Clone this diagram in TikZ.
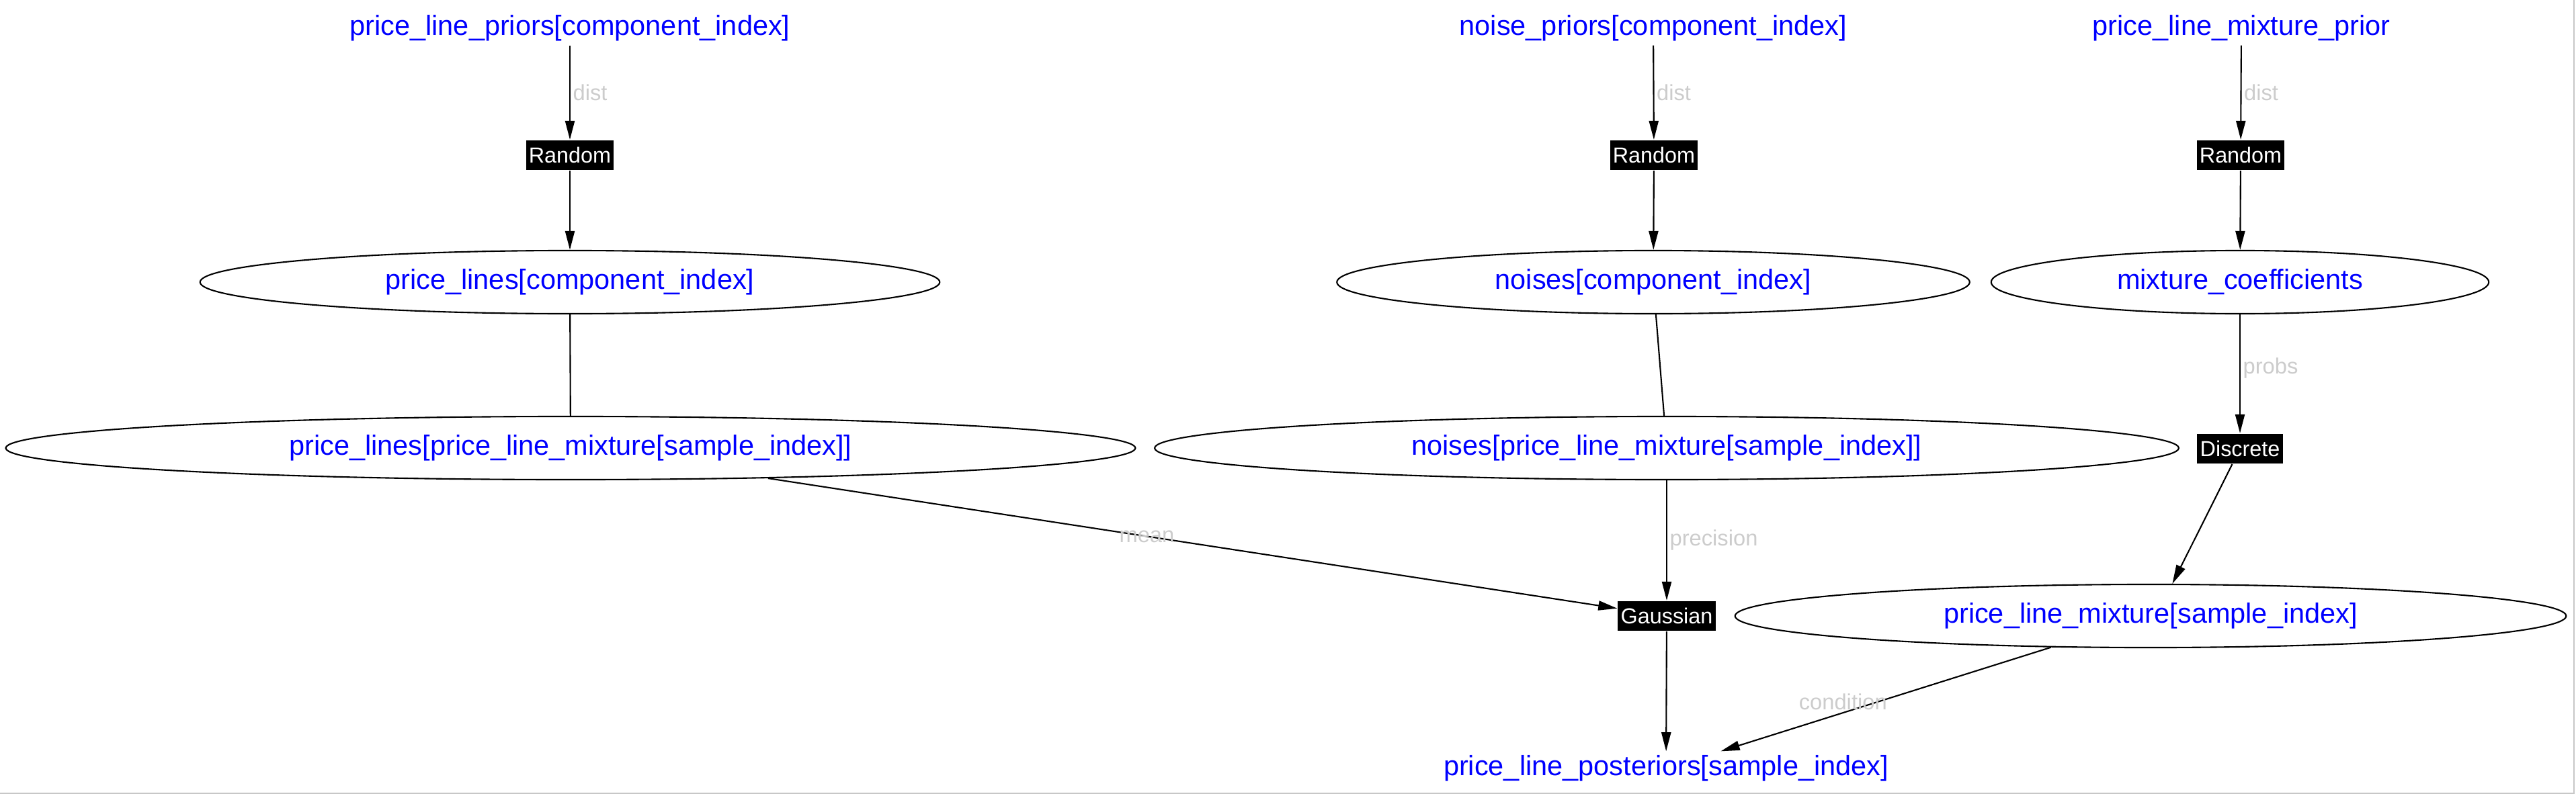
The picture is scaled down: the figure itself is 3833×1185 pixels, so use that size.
\documentclass[tikz,border=0pt]{standalone}
\usepackage{fontspec}
\usetikzlibrary{arrows.meta,shapes.geometric}
\newfontfamily\graphfont{Liberation Sans}

\begin{document}
\begin{tikzpicture}[x=0.01cm, y=-0.01cm, line width=0.6pt,
    >={Triangle[length=8pt,width=4pt]},
    var/.style={ellipse, draw, inner sep=0pt, minimum height=0.94cm,
      text=blue, font=\graphfont\fontsize{11.8}{14}\selectfont},
    obs/.style={inner sep=1.5pt, text=blue,
      font=\graphfont\fontsize{11.8}{14}\selectfont},
    fac/.style={fill=black, text=white, inner xsep=1.2pt, inner ysep=0pt,
      minimum height=0.44cm, font=\graphfont\fontsize{9.2}{11}\selectfont},
    lbl/.style={text=black!20, inner sep=1pt,
      font=\graphfont\fontsize{9.3}{11}\selectfont}]

    % Moldura
    \useasboundingbox (0,0) rectangle (3833,1185);
    \draw[black!22] (3830,0) -- (3830,1181) -- (0,1181);

    % Priors
    \node[obs] (plpriors) at (848,42) {price\_line\_priors[component\_index]};
    \node[obs] (npriors) at (2460,42) {noise\_priors[component\_index]};
    \node[obs] (mixprior) at (3335,42) {price\_line\_mixture\_prior};

    % Fatores Random
    \foreach \n/\x in {rand1/848, rand2/2461, rand3/3334}
        \node[fac] (\n) at (\x,231) {Random};
    \foreach \a/\b in {plpriors/rand1, npriors/rand2, mixprior/rand3}
        \draw[->] (\a) -- node[lbl, anchor=west] {dist} (\b);

    % Variaveis por componente
    \node[var, minimum width=11cm] (plines) at (848,420) {price\_lines[component\_index]};
    \node[var, minimum width=9.41cm] (noises) at (2460,420) {noises[component\_index]};
    \node[var, minimum width=7.4cm] (mixcoef) at (3333,420) {mixture\_coefficients};
    \foreach \a/\b in {rand1/plines, rand2/noises, rand3/mixcoef}
        \draw[->] (\a) -- (\b);

    % Variaveis por amostra
    \node[var, minimum width=16.8cm] (plinesmix) at (849,667) {price\_lines[price\_line\_mixture[sample\_index]]};
    \node[var, minimum width=15.23cm] (noisesmix) at (2480,667) {noises[price\_line\_mixture[sample\_index]]};
    \node[fac] (disc) at (3333,668) {Discrete};
    \draw (plines) -- (plinesmix);
    \draw (noises) -- (noisesmix);
    \draw[->] (mixcoef) -- node[lbl, anchor=west, pos=0.45] {probs} (disc);

    % Gaussian e mistura
    \node[fac] (gauss) at (2480,917) {Gaussian};
    \node[var, minimum width=12.36cm] (pmix) at (3200,917) {price\_line\_mixture[sample\_index]};
    \draw[->] (plinesmix) -- node[lbl, pos=0.446] {mean} (gauss);
    \draw[->] (noisesmix) -- node[lbl, anchor=west] {precision} (gauss);
    \draw[->] (disc) -- (pmix.56);

    % Posterior
    \node[obs] (post) at (2479,1144) {price\_line\_posteriors[sample\_index]};
    \draw[->] (gauss) -- (post);
    \draw[->] (pmix) -- node[lbl, pos=0.63, yshift=4.5pt] {condition} (post);
\end{tikzpicture}
\end{document}
